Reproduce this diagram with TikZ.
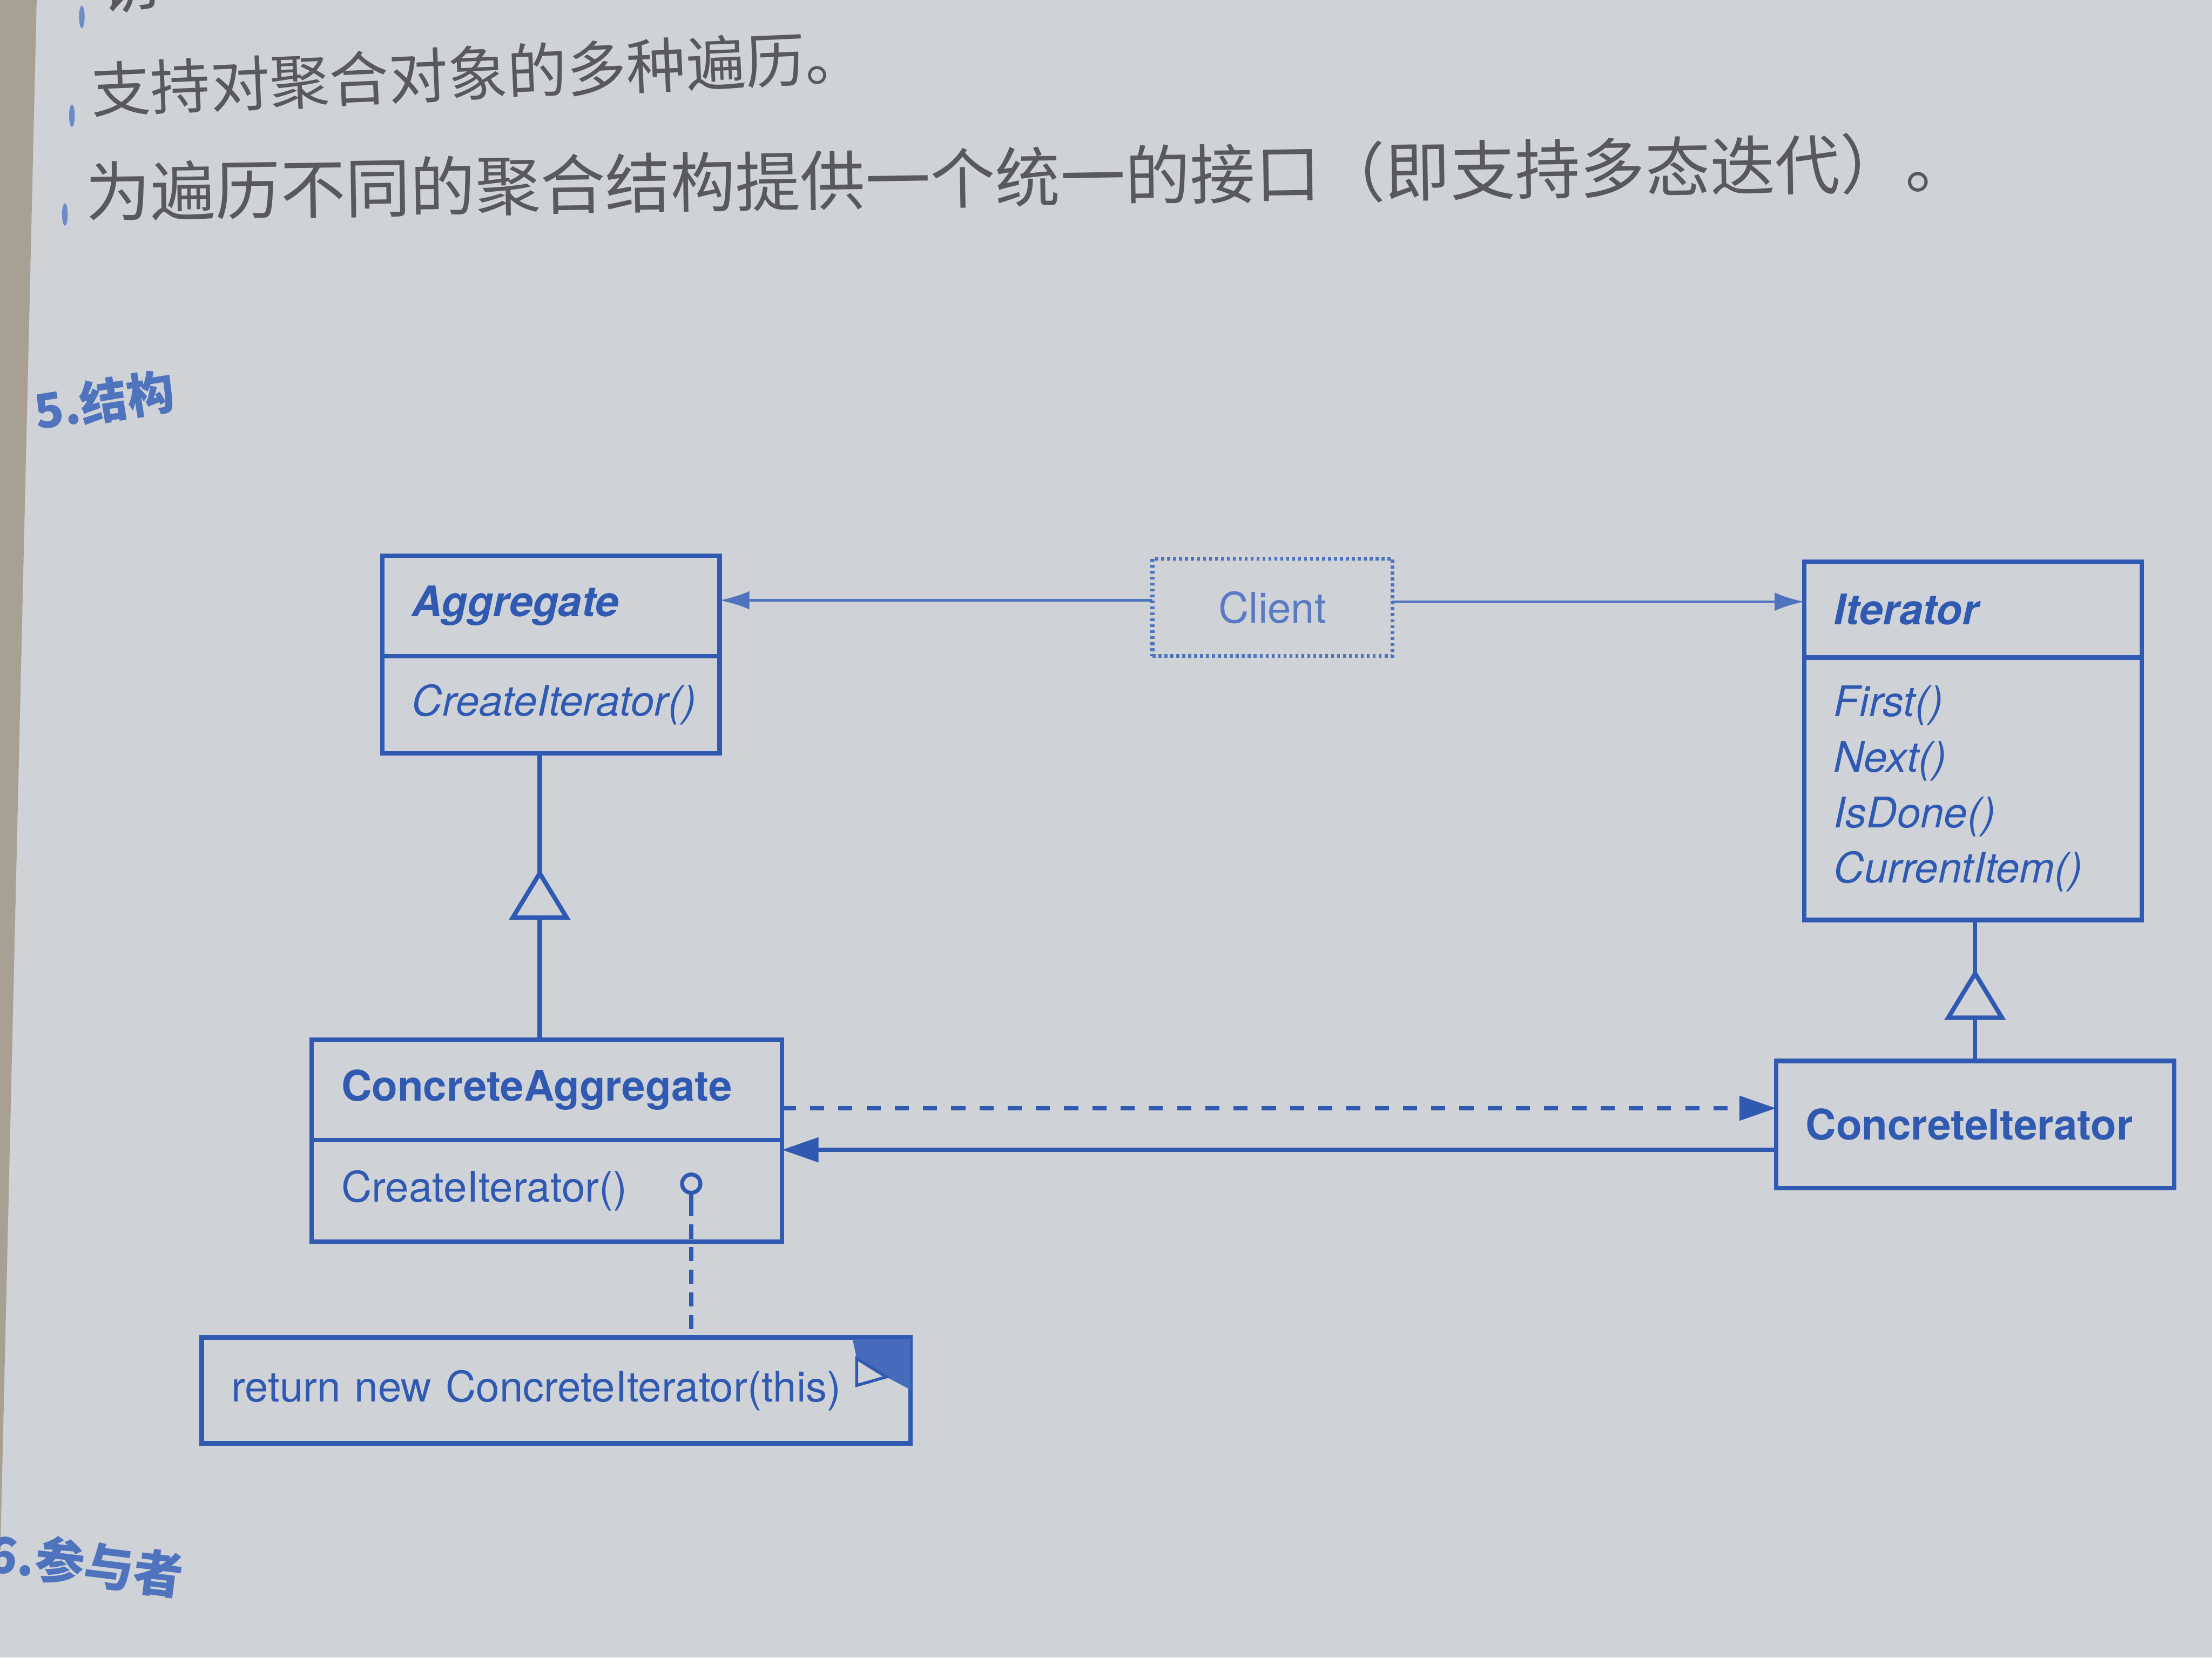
\documentclass[tikz,border=0pt]{standalone}
\usepackage{fontspec}
\setmainfont{TeX Gyre Heros}
\newfontfamily\cjk{Noto Sans CJK SC}
\usetikzlibrary{positioning,arrows.meta,decorations.markings}

\definecolor{pagegray}{RGB}{207,211,216}
\definecolor{spine}{RGB}{168,160,147}
\definecolor{umlblue}{RGB}{48,90,178}
\definecolor{inkgray}{RGB}{88,88,94}
\newcommand{\umlsize}{\fontsize{8.5}{11.2}\selectfont}

\tikzset{
  cls/.style={draw=umlblue, line width=0.9pt, text=umlblue, outer sep=0pt, inner xsep=0.21cm, inner ysep=0pt, align=left},
  uml/.style={draw=umlblue, line width=0.9pt},
  assoc/.style={draw=umlblue!85, line width=0.5pt, -{Latex[length=0.21cm,width=0.13cm]}},
  navarrow/.style={uml, -{Triangle[length=0.26cm,width=0.17cm]}},
  inherit/.style={uml, postaction={decorate, decoration={markings, mark=at position #1 with {\arrow{Triangle[length=0.36cm,width=0.43cm,fill=pagegray]}}}}},
  bodytext/.style={text=inkgray, font=\cjk\fontsize{13.1}{14}\selectfont, inner sep=0pt},
  heading/.style={text=umlblue!85, font=\cjk\bfseries\fontsize{9.6}{10}\selectfont, inner sep=0pt},
}

\begin{document}
\begin{tikzpicture}[x=0.01cm, y=-0.01cm]
\useasboundingbox (0,0) rectangle (1568,1175);
\clip (0,0) rectangle (1568,1175);
% page
\fill[pagegray] (0,0) rectangle (1568,1175);
\fill[spine] (0,0) -- (26,0) -- (0,1110) -- cycle;
% bullet list above the figure
\foreach \bx/\by in {58/12, 51/82, 46/152} {
  \fill[umlblue!70] (\bx,\by) ellipse [x radius=0.02cm, y radius=0.08cm];
}
\node[bodytext, anchor=west, rotate=9] (useA) at (68,-9) {访};
\node[bodytext, anchor=west, rotate=2.5, font=\cjk\fontsize{12}{14}\selectfont] (useB) at (64,64) {支持对聚合对象的多种遍历。};
\node[bodytext, anchor=west, rotate=0.9] (useC) at (60,136) {为遍历不同的聚合结构提供一个统一的接口（即支持多态迭代）。};
% section headings
\node[heading, anchor=west, rotate=9] (secA) at (24,292) {5.结构};
\node[heading, anchor=west, rotate=-7, font=\cjk\bfseries\fontsize{10}{11}\selectfont] (secB) at (-9,1100) {6.参与者};

% abstract classes
\node[cls, anchor=north west, text width=1.97cm, minimum height=0.71cm, font=\umlsize\bfseries\itshape] (aggT) at (271,394) {Aggregate};
\node[cls, below=0pt of aggT, text width=1.97cm, minimum height=0.69cm, font=\umlsize\itshape] (aggM) {CreateIterator()};
\node[cls, anchor=north west, text width=1.97cm, minimum height=0.68cm, font=\umlsize\bfseries\itshape] (iterT) at (1279,398) {Iterator};
\node[cls, below=0pt of iterT, text width=1.97cm, minimum height=1.86cm, font=\umlsize\itshape] (iterM) {First()\\Next()\\IsDone()\\CurrentItem()};
% client
\node[draw=umlblue!85, line width=0.8pt, dash pattern=on 0.6pt off 0.6pt, text=umlblue!80, minimum width=1.70cm, minimum height=0.69cm, outer sep=0pt, font=\umlsize] (client) at (902,430.5) {Client};
% concrete classes
\node[cls, anchor=north west, text width=2.91cm, minimum height=0.71cm, font=\umlsize\bfseries] (concAT) at (221,737) {ConcreteAggregate};
\node[cls, below=0pt of concAT, text width=2.91cm, minimum height=0.72cm, font=\umlsize] (concAM) {CreateIterator()};
\node[cls, anchor=north west, text width=2.40cm, minimum height=0.90cm, font=\umlsize\bfseries] (concI) at (1259,752) {ConcreteIterator};
% implementation note
\node[cls, anchor=north west, text width=4.60cm, minimum height=0.75cm, font=\umlsize] (note) at (143,948) {return new ConcreteIterator(this)};
\begin{scope}[shift={(note.north east)}]
  \fill[umlblue!90] (-41,1) -- (0,1) -- (0,37) -- (-17,28) -- (-38,15) -- cycle;
  \filldraw[fill=pagegray, draw=umlblue, line width=0.6pt] (-38,15) -- (-38,34) -- (-17,28) -- cycle;
\end{scope}

% associations from the client
\draw[assoc] ([yshift=0.05cm]client.west) -- ([yshift=0.05cm]client.west -| aggT.east);
\draw[assoc] ([yshift=0.04cm]client.east) -- ([yshift=0.04cm]client.east -| iterT.west);
% inheritance
\draw[inherit=1.21cm] ([xshift=-0.05cm]concAT.north) -- ([xshift=-0.05cm]concAT.north |- aggM.south);
\draw[inherit=0.65cm] (concI.north) -- (concI.north |- iterM.south);
% creates / refers to
\draw[navarrow, dash pattern=on 0.1cm off 0.1cm] ([yshift=-0.13cm]concAT.east) -- ([yshift=-0.13cm]concAT.east -| concI.west);
\draw[navarrow] ([yshift=-0.18cm]concI.west) -- ([yshift=-0.18cm]concI.west -| concAM.east);
% note attached to CreateIterator()
\node[draw=umlblue, circle, line width=0.8pt, minimum size=0.13cm, inner sep=0pt] (knob) at (490,839) {};
\coordinate (stem) at (490,858);
\draw[uml] (knob) -- (stem);
\draw[uml, dash pattern=on 0.1cm off 0.06cm, dash phase=0.06cm] (stem) -- (stem |- note.north);
\end{tikzpicture}
\end{document}
